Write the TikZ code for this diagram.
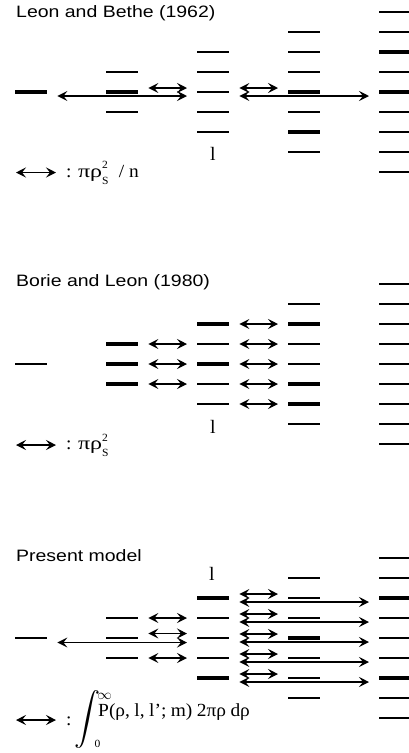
\documentclass[tikz,border=0pt]{standalone}
\usepackage{fontspec}
\usepackage{graphicx}
\setmainfont{Liberation Serif}[FakeStretch=1.05]
\newfontfamily\titlefont{Liberation Sans}[FakeStretch=1.18]
\usetikzlibrary{arrows.meta}
\newcommand\mysupsub[2]{\makebox[0pt][l]{\raisebox{0.45em}{\fontsize{11}{11}\selectfont #1}}\raisebox{-0.38em}{\fontsize{11}{11}\selectfont #2}}
\newcommand\mygreek[1]{{\addfontfeature{FakeStretch=1.3}#1}}
\tikzset{
  lvl/.style={rectangle, fill=black, draw=none, inner sep=0pt, minimum width=32pt, minimum height=2.4pt, anchor=west},
  thk/.style={minimum height=3.2pt},
  thn/.style={minimum height=1.7pt},
  tipx/.tip={Stealth[length=10pt,width=10pt,inset=4pt]},
  dar/.style={line width=1.3pt, tipx-tipx, shorten <=10pt, shorten >=10pt},
  leg/.style={line width=1.3pt, tipx-tipx},
  ttl/.style={anchor=base west, inner sep=0pt, font=\titlefont\fontsize{16.5}{16.5}\selectfont},
  txt/.style={anchor=base west, inner sep=0pt, font=\fontsize{18.5}{18.5}\selectfont},
  lab/.style={anchor=base, inner sep=0pt, font=\fontsize{19}{19}\selectfont},
  bs104/.style={thk}, bs114/.style={thk}, bs134/.style={thk}, bs136/.style={thk},
  bs144/.style={thk}, bs142/.style={thk}, bs131/.style={thn}, bs140/.style={thn}, bs148/.style={thn},
  bs204/.style={thn}, bs213/.style={thk}, bs214/.style={thk}, bs215/.style={thk},
  bs222/.style={thk}, bs224/.style={thk}, bs232/.style={thk}, bs235/.style={thk}, bs236/.style={thk},
  bs231/.style={thn}, bs237/.style={thn},
  bs304/.style={thn}, bs322/.style={thk}, bs326/.style={thk}, bs334/.style={thk},
  bs342/.style={thk}, bs346/.style={thk}, bs331/.style={thn}, bs337/.style={thn},
}
\begin{document}
\begin{tikzpicture}[x=1pt, y=-1pt]
\useasboundingbox (0,0) rectangle (408,753);

% level bars
\foreach \p/\cy in {1/92, 2/364, 3/638} {
  \node[lvl, bs\p04/.try] (p\p c0k4) at (15,\cy) {};
  \foreach \k in {3,4,5}
    \node[lvl, bs\p1\k/.try] (p\p c1k\k) at (106,{\cy+20*(\k-4)}) {};
  \foreach \k in {2,...,6}
    \node[lvl, bs\p2\k/.try] (p\p c2k\k) at (197,{\cy+20*(\k-4)}) {};
  \foreach \k in {1,...,7}
    \node[lvl, bs\p3\k/.try] (p\p c3k\k) at (288,{\cy+20*(\k-4)}) {};
  \foreach \k in {0,...,8}
    \node[lvl, bs\p4\k/.try] (p\p c4k\k) at (379,{\cy+20*(\k-4)}) {};
}

% ---------- Panel 1 ----------
\node[ttl] (t1) at (16,17) {Leon and Bethe (1962)};
\draw[dar] ([yshift=4pt]p1c1k4.east) -- ([yshift=4pt]p1c2k4.west);
\draw[dar] ([yshift=-4pt]p1c0k4.east) -- ([yshift=-4pt]p1c2k4.west);
\draw[dar] ([yshift=4pt]p1c2k4.east) -- ([yshift=4pt]p1c3k4.west);
\draw[dar] ([yshift=-4pt]p1c2k4.east) -- ([yshift=-4pt]p1c4k4.west);
\node[lab] (l1) at (213,160) {l};
\coordinate (L1a) at (16,172.5);
\coordinate (L1b) at (56,172.5);
\draw[leg] (L1a) -- (L1b);
\node[txt] (f1) at (66,177) {: \mygreek{πρ}\mysupsub{2}{S}\hspace{0.55em}/ n};

% ---------- Panel 2 ----------
\node[ttl] (t2) at (16,286.5) {Borie and Leon (1980)};
\foreach \k in {3,4,5}
  \draw[dar] (p2c1k\k.east) -- (p2c2k\k.west);
\foreach \k in {2,...,6}
  \draw[dar] (p2c2k\k.east) -- (p2c3k\k.west);
\node[lab] (l2) at (213,433) {l};
\coordinate (L2a) at (16,445);
\coordinate (L2b) at (56,445);
\draw[leg] (L2a) -- (L2b);
\node[txt] (f2) at (66,449.5) {: \mygreek{πρ}\mysupsub{2}{S}};

% ---------- Panel 3 ----------
\node[ttl] (t3) at (16,561.5) {Present model};
\node[lab] (l3) at (212,580) {l};
\draw[dar] (p3c1k3.east) -- (p3c2k3.west);
\draw[dar] (p3c1k5.east) -- (p3c2k5.west);
\draw[dar] ([yshift=4.5pt]p3c1k4.east) -- ([yshift=4.5pt]p3c2k4.west);
\draw[dar] ([yshift=-4.5pt]p3c0k4.east) -- ([yshift=-4.5pt]p3c2k4.west);
\foreach \k in {2,...,6} {
  \draw[dar] ([yshift=4pt]p3c2k\k.east) -- ([yshift=4pt]p3c3k\k.west);
  \draw[dar] ([yshift=-4pt]p3c2k\k.east) -- ([yshift=-4pt]p3c4k\k.west);
}
\coordinate (L3a) at (16,720);
\coordinate (L3b) at (56,720);
\draw[leg] (L3a) -- (L3b);
\node[txt] (colon3) at (66,725) {:};
\node[inner sep=0pt] (int) at (88,719) {\resizebox*{!}{58pt}{$\displaystyle\int$}};
\node[inner sep=0pt] (inf) at (104.5,696) {\fontsize{15}{15}\selectfont$\infty$};
\node[inner sep=0pt] (zero) at (97.5,744) {\fontsize{11}{11}\selectfont 0};
\node[txt] (f3) at (98,716) {\spaceskip=0.24em P(ρ, l, l'; m) 2πρ dρ};
\end{tikzpicture}
\end{document}
